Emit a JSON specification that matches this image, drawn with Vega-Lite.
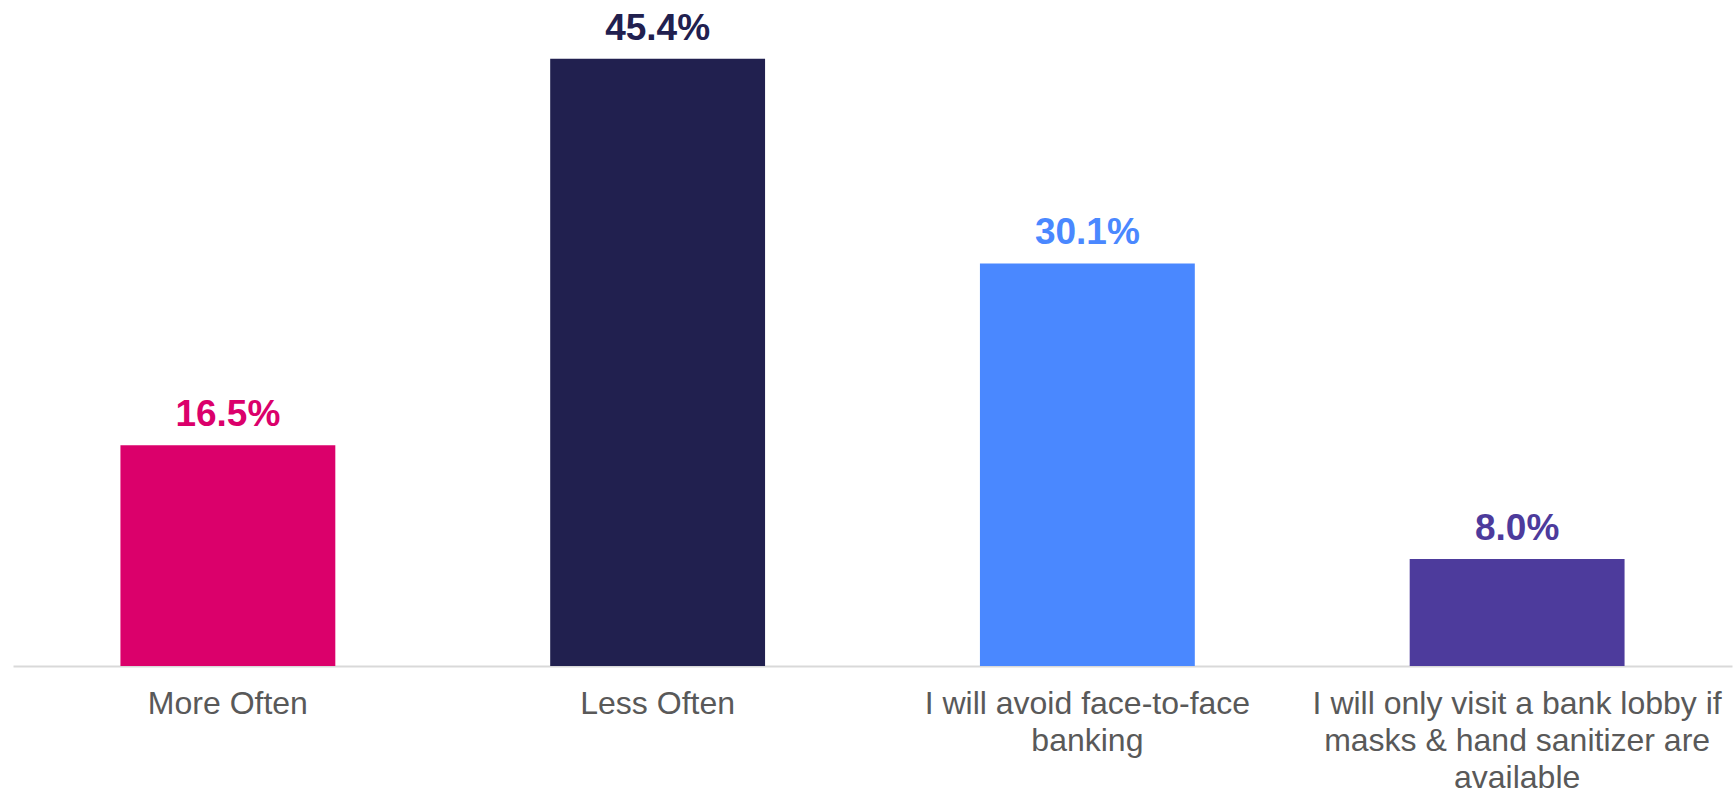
{
  "$schema": "https://vega.github.io/schema/vega-lite/v6.json",
  "width": 1719,
  "height": 666,
  "padding": {"left": 13, "top": 0, "right": 3, "bottom": 0},
  "background": "white",
  "config": {"view": {"stroke": null}},
  "data": {
    "values": [
      {"cat": "More Often", "value": 0.165, "color": "#DB006B"},
      {"cat": "Less Often", "value": 0.454, "color": "#21204F"},
      {"cat": "I will avoid face-to-face|banking", "value": 0.301, "color": "#4A88FF"},
      {"cat": "I will only visit a bank lobby if|masks & hand sanitizer are|available", "value": 0.080, "color": "#4D3B9C"}
    ]
  },
  "encoding": {
    "x": {
      "field": "cat",
      "type": "nominal",
      "sort": null,
      "scale": {"paddingInner": 0.5, "paddingOuter": 0.25},
      "axis": {
        "title": null,
        "labelAngle": 0,
        "labelExpr": "split(datum.label, '|')",
        "labelFont": "Liberation Sans",
        "labelFontSize": 32,
        "labelColor": "#595959",
        "labelPadding": 22,
        "labelLineHeight": 37,
        "labelLimit": 0,
        "ticks": false,
        "domainColor": "#D9D9D9",
        "domainWidth": 2
      }
    },
    "y": {
      "field": "value",
      "type": "quantitative",
      "scale": {"domain": [0, 0.498]},
      "axis": null
    },
    "color": {"field": "color", "type": "nominal", "scale": null}
  },
  "layer": [
    {"mark": {"type": "bar"}},
    {
      "mark": {
        "type": "text",
        "baseline": "alphabetic",
        "dy": -19,
        "font": "Liberation Sans",
        "fontSize": 37,
        "fontWeight": "bold"
      },
      "encoding": {
        "text": {"field": "value", "type": "quantitative", "format": ".1%"}
      }
    }
  ]
}
